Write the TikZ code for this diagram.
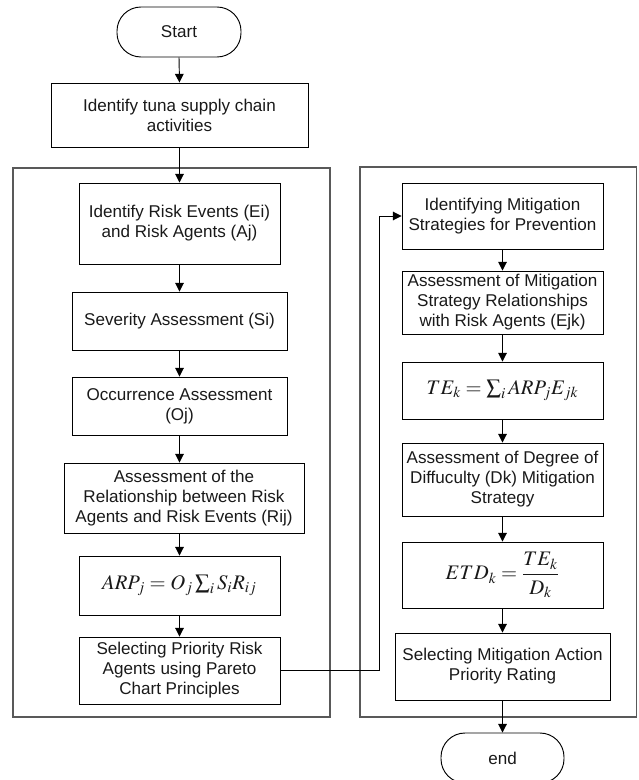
\documentclass[tikz,border=0pt]{standalone}
\usepackage{mathptmx}
\usepackage[no-math]{fontspec}
\setmainfont{Liberation Sans}
\usetikzlibrary{arrows.meta}
\begin{document}
\begin{tikzpicture}[x=0.75pt,y=-0.75pt,
  wh/.style 2 args={minimum width=#1*0.75pt, minimum height=#2*0.75pt},
  box/.style={draw=black, line width=0.7pt, align=center, inner sep=1pt,
    font=\fontsize{12.8}{15}\selectfont, text=black!90},
  term/.style={box, rounded corners=18pt},
  fml/.style={box, font=\fontsize{15.5}{19}\selectfont},
  frame/.style={draw=black!65, line width=1.2pt},
  arr/.style={draw=black, line width=0.7pt, -{Triangle[length=6.5pt,width=6.5pt]}}]
\useasboundingbox (0,0) rectangle (638,780);
\clip (0,0) rectangle (638,780);
% frames
\draw[frame] (13,168) rectangle (330,717);
\draw[frame] (360,167) rectangle (636.5,717);
% left column
\node[term, wh={124}{50}] (start) at (179,32) {Start};
\node[box, wh={257}{64}] (n1) at (179.5,115) {Identify tuna supply chain\\activities};
\node[box, wh={201}{81}] (n2) at (179.5,223.5) {Identify Risk Events (Ei)\\and Risk Agents (Aj)};
\node[box, wh={215}{58}] (n3) at (179.5,321) {Severity Assessment (Si)};
\node[box, wh={215}{58}] (n4) at (179.5,406) {Occurrence Assessment\\(Oj)};
\node[box, wh={240}{70}] (n5) at (184,498) {Assessment of the\\Relationship between Risk\\Agents and Risk Events (Rij)};
\node[fml, wh={201}{59}] (n6) at (179.5,585.5) {$ARP_j = O_j\sum_i S_i R_{ij}$};
\node[box, wh={201}{67}] (n7) at (179.5,670.5) {Selecting Priority Risk\\Agents using Pareto\\Chart Principles};
% right column
\node[box, wh={201}{66}] (m1) at (502.5,216) {Identifying Mitigation\\Strategies for Prevention};
\node[box, wh={201}{63}] (m2) at (502.5,302.5) {Assessment of Mitigation\\Strategy Relationships\\with Risk Agents (Ejk)};
\node[fml, wh={201}{57}] (m3) at (502.5,390.5) {$TE_k = \sum_i ARP_j E_{jk}$};
\node[box, wh={201}{73}] (m4) at (502.5,479.5) {Assessment of Degree of\\Diffuculty (Dk) Mitigation\\Strategy};
\node[fml, wh={201}{66}] (m5) at (502.5,575) {$\displaystyle ETD_k = \frac{TE_k}{D_k}$};
\node[box, wh={215}{67}] (m6) at (502.5,666.5) {Selecting Mitigation Action\\Priority Rating};
\node[term, wh={123}{50}] (end) at (502.5,758) {end};
% connectors
\draw[arr] (start.south) -- (n1.north);
\draw[arr] (n1.south) -- (n2.north);
\draw[arr] (n2.south) -- (n3.north);
\draw[arr] (n3.south) -- (n4.north);
\draw[arr] (n4.south) -- (n4.south |- n5.north);
\draw[arr] (n5.south -| n4.south) -- (n6.north);
\draw[arr] (n6.south) -- (n7.north);
\coordinate (jog) at (379,216);
\draw[arr] (n7.east) -| (jog) -- (m1.west);
\draw[arr] (m1.south) -- (m2.north);
\draw[arr] (m2.south) -- (m3.north);
\draw[arr] (m3.south) -- (m4.north);
\draw[arr] (m4.south) -- (m5.north);
\draw[arr] (m5.south) -- (m6.north);
\draw[arr] (m6.south) -- (end.north);
\end{tikzpicture}
\end{document}
